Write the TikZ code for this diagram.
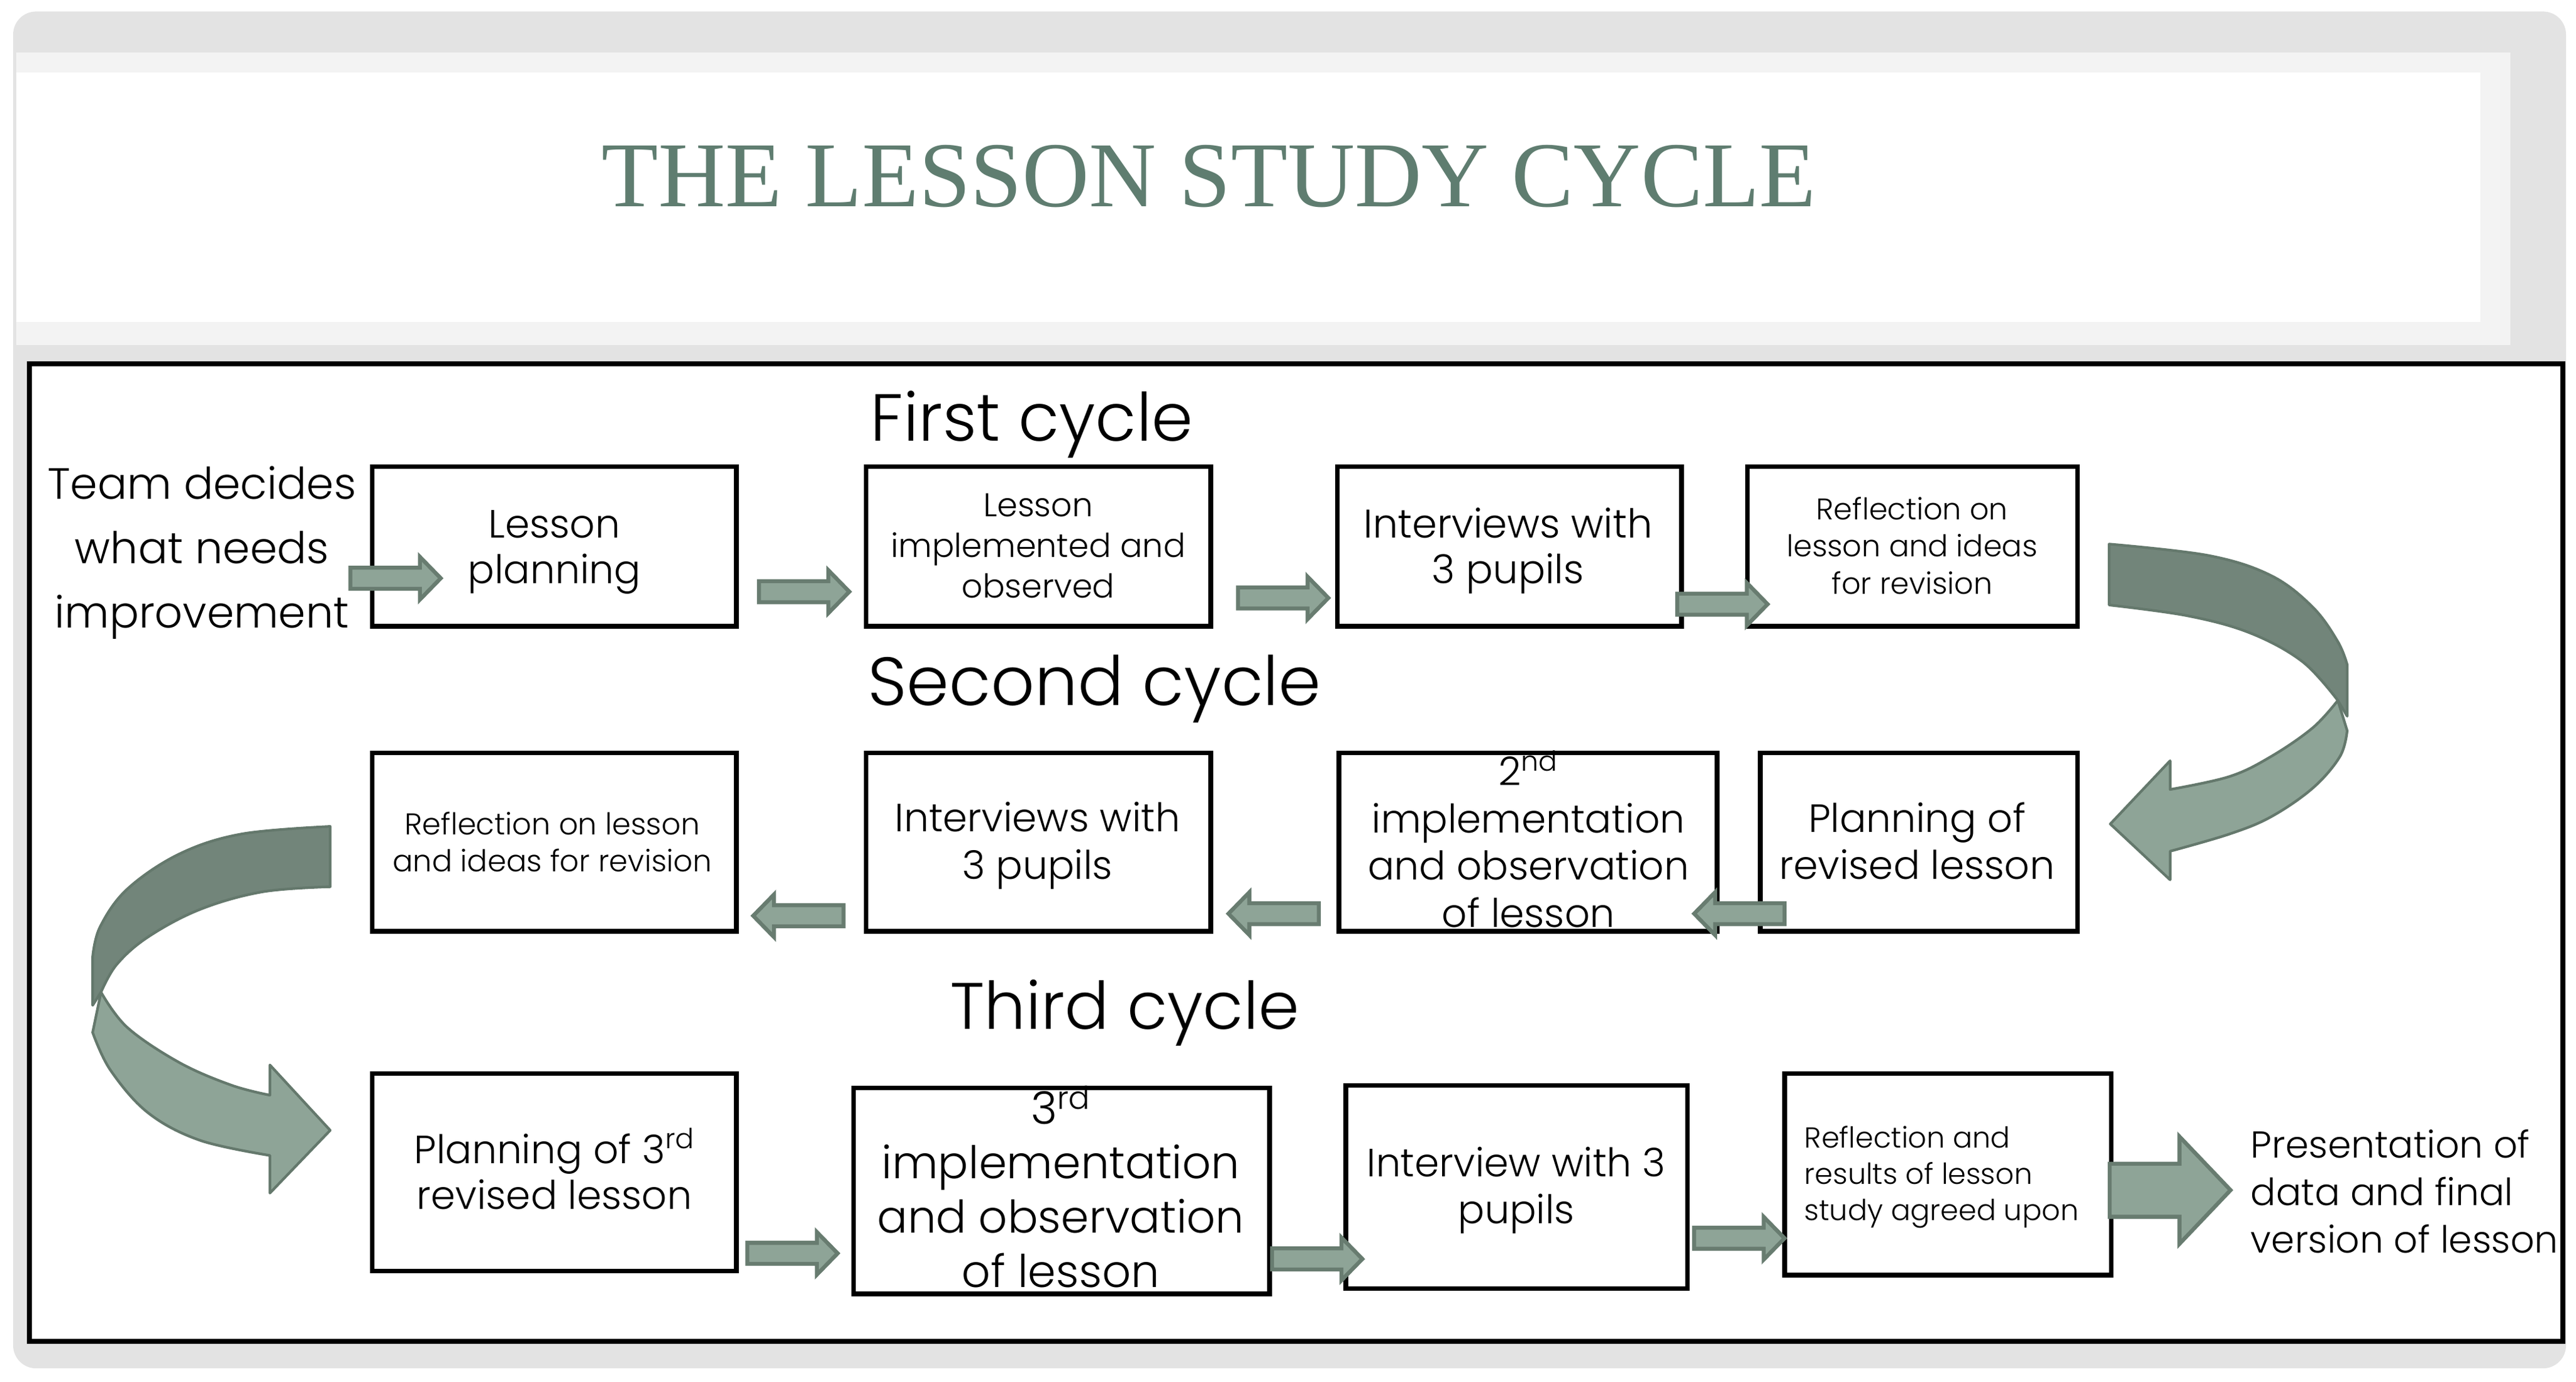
\documentclass[tikz,border=0pt]{standalone}
\usepackage{fontspec}
\IfFontExistsTF{Poppins Light}{\setmainfont{Poppins Light}}{\setmainfont{Poppins}}
\newfontfamily\titlefont{Liberation Serif}
\definecolor{frameg}{HTML}{E3E3E3}
\definecolor{frameh}{HTML}{F3F3F3}
\definecolor{titleg}{HTML}{5F7D70}
\definecolor{arrD}{HTML}{687C70}
\definecolor{arrL}{HTML}{8EA497}
\definecolor{bandD}{HTML}{72857A}
\definecolor{bandL}{HTML}{8EA497}
\definecolor{bandO}{HTML}{64786C}
\newcommand{\blkR}[2]{%
  \filldraw[blockarrow] (#1,#2-6.4) -- ++(42.3,0) -- ++(0,-6.6) -- ++(12.7,13) -- ++(-12.7,13) -- ++(0,-6.6) -- ++(-42.3,0) -- cycle;}
\newcommand{\blkL}[2]{%
  \filldraw[blockarrow] (#1,#2) -- ++(12.7,-13) -- ++(0,6.6) -- ++(42.3,0) -- ++(0,12.8) -- ++(-42.3,0) -- ++(0,6.6) -- cycle;}
\tikzset{
  blockarrow/.style={fill=arrL, draw=arrD, line width=2.4pt, line join=miter},
  band/.style={draw=bandO, line width=1.6pt, line join=round},
  box/.style={draw=black, line width=2.8pt, fill=white, inner sep=0pt, minimum height=#1},
  txt/.style={inner sep=0pt, align=center, anchor=base, text=black},
  ltxt/.style={inner sep=0pt, align=left, anchor=base west, text=black},
}
\begin{document}
\begin{tikzpicture}[x=1pt,y=-1pt]
\useasboundingbox (0,0) rectangle (1568.1,841.3);
% slide background
\fill[white] (0,0) rectangle (1568.1,841.3);
\fill[frameg, rounded corners=14pt] (8,7) rectangle (1562,833);
\fill[frameh] (10,32) rectangle (1528,210);
\fill[white] (10,44) rectangle (1510,196);
\node[inner sep=0pt, anchor=base, text=titleg, font={\titlefont\fontsize{56.5}{60}\selectfont}] (title) at (736,125.6) {THE LESSON STUDY CYCLE};
% main frame
\draw[black, line width=3pt, fill=white] (17.8,221.6) rectangle (1560,816.5);

% headings
\node[ltxt, font={\fontsize{40.5}{44}\selectfont}] (h1) at (529.8,268.3) {First cycle};
\node[ltxt, font={\fontsize{41.5}{44}\selectfont}] (h2) at (528,429.5) {Second cycle};
\node[ltxt, font={\fontsize{40}{44}\selectfont}] (h3) at (578.2,626.6) {Third cycle};

% boxes row 1
\node[box=97.3, minimum width=221.6] (b11) at (337.5,332.65) {};
\node[box=97.3, minimum width=209.9] (b12) at (632.15,332.65) {};
\node[box=97.3, minimum width=209.6] (b13) at (918.8,332.65) {};
\node[box=97.3, minimum width=200.8] (b14) at (1164.2,332.65) {};
% boxes row 2
\node[box=108.6, minimum width=221.6] (b21) at (337.5,512.7) {};
\node[box=108.6, minimum width=209.9] (b22) at (632.15,512.7) {};
\node[box=108.6, minimum width=230.2] (b23) at (930.1,512.7) {};
\node[box=108.6, minimum width=193.1] (b24) at (1168.05,512.7) {};
% boxes row 3
\node[box=120.1, minimum width=221.6] (b31) at (337.5,713.65) {};
\node[box=125.4, minimum width=253.2] (b32) at (646.2,724.9) {};
\node[box=123.8, minimum width=208] (b33) at (923.2,722.6) {};
\node[box=122.7, minimum width=198.8] (b34) at (1185.8,714.95) {};

% texts (positions are the baseline of the last line)
\node[txt, font={\fontsize{26.6}{39.3}\selectfont}] (team) at (123,382.4) {Team decides\\what needs\\improvement};
\node[txt, font={\fontsize{24}{27.9}\selectfont}] (t11) at (337.5,355.2) {Lesson\\planning};
\node[txt, font={\fontsize{20}{24.7}\selectfont}] (t12) at (632,364.0) {Lesson\\implemented and\\observed};
\node[txt, font={\fontsize{24.3}{27.9}\selectfont}] (t13) at (918,355.2) {Interviews with\\3 pupils};
\node[txt, font={\fontsize{18.2}{22.5}\selectfont}] (t14) at (1164,361.5) {Reflection on\\lesson and ideas\\for revision};
\node[txt, font={\fontsize{18.3}{22.8}\selectfont}] (t21) at (336.2,530.8) {Reflection on lesson\\and ideas for revision};
\node[txt, font={\fontsize{24}{29.2}\selectfont}] (t22) at (631.6,535.3) {Interviews with\\3 pupils};
\node[txt, font={\fontsize{24}{28.7}\selectfont}] (t23) at (930.4,564.3) {2\textsuperscript{nd}\\implementation\\and observation\\of lesson};
\node[txt, font={\fontsize{24}{28.6}\selectfont}] (t24) at (1167,535.3) {Planning of\\revised lesson};
\node[txt, font={\fontsize{24}{27.9}\selectfont}] (t31) at (337.5,736.1) {Planning of 3\textsuperscript{rd}\\revised lesson};
\node[txt, font={\fontsize{27.4}{33.1}\selectfont}] (t32) at (645.7,783.7) {3\textsuperscript{rd}\\implementation\\and observation\\of lesson};
\node[txt, font={\fontsize{24}{28.6}\selectfont}] (t33) at (923,745) {Interview with 3\\pupils};
\node[ltxt, font={\fontsize{17.6}{22.2}\selectfont}] (t34) at (1098.3,743.1) {Reflection and\\results of lesson\\study agreed upon};
\node[ltxt, font={\fontsize{22.8}{29}\selectfont}] (pres) at (1370,762.8) {Presentation of\\data and final\\version of lesson};

% straight block arrows
\blkR{213.3}{352.0}
\blkR{462}{360.2}
\blkR{753.6}{364}
\blkR{1021}{367.8}
\blkL{458.5}{557.5}
\blkL{747.8}{556.2}
\blkL{1031.3}{556.2}
\blkR{454.9}{763}
\blkR{774.3}{766.4}
\blkR{1031.3}{753.8}
% big final arrow
\filldraw[blockarrow] (1284.2,708.4) -- (1326.7,708.4) -- (1326.7,691.9) -- (1357.8,724.5) -- (1326.7,757.2) -- (1326.7,740.7) -- (1284.2,740.7) -- cycle;

% right curved arrow (first -> second cycle)
\filldraw[band, fill=bandD] plot[smooth, tension=0.6] coordinates {(1283.9,331.2) (1344.5,338.2) (1382.5,350.4) (1407.9,369.7) (1423.1,390.6) (1428.8,404.6)} -- (1428.8,436) -- plot[smooth, tension=0.6] coordinates {(1423.1,426.4) (1401.6,402.8) (1369.9,385.4) (1331.8,374.9) (1283.9,368.3)} -- cycle;
\filldraw[band, fill=bandL] (1423.1,426.4) -- plot[smooth, tension=0.6] coordinates {(1428.8,444.8) (1424.4,460.5) (1407.9,479.7) (1382.5,497.2) (1357.2,507.7) (1321,518.2)} -- (1321,535.6) -- (1284.6,501.6) -- (1321,463.1) -- plot[smooth, tension=0.6] coordinates {(1321,480.6) (1357.2,472.7) (1382.5,460.5) (1407.9,443) (1423.1,426.4)} -- cycle;

% left curved arrow (second -> third cycle)
\filldraw[band, fill=bandD] plot[smooth, tension=0.6] coordinates {(201,503.1) (147.1,507.7) (109.1,519.9) (77.4,541.3) (60.9,564.3) (56.4,582.6)} -- (56.4,612) -- plot[smooth, tension=0.6] coordinates {(61.5,604) (71.0,587.2) (90.1,570.4) (121.8,553.6) (159.8,542.9) (201,539.8)} -- cycle;
\filldraw[band, fill=bandL] (61.5,604) -- plot[smooth, tension=0.6] coordinates {(56.4,628.5) (67.2,651.4) (90.1,677.4) (121.8,694.2) (164.3,703.4)} -- (164.3,726.3) -- (201,688.1) -- (164.3,648.3) -- plot[smooth, tension=0.6] coordinates {(164.3,666.7) (140.8,660.6) (109.1,646.8) (77.4,625.4) (61.5,604)} -- cycle;
\end{tikzpicture}
\end{document}
